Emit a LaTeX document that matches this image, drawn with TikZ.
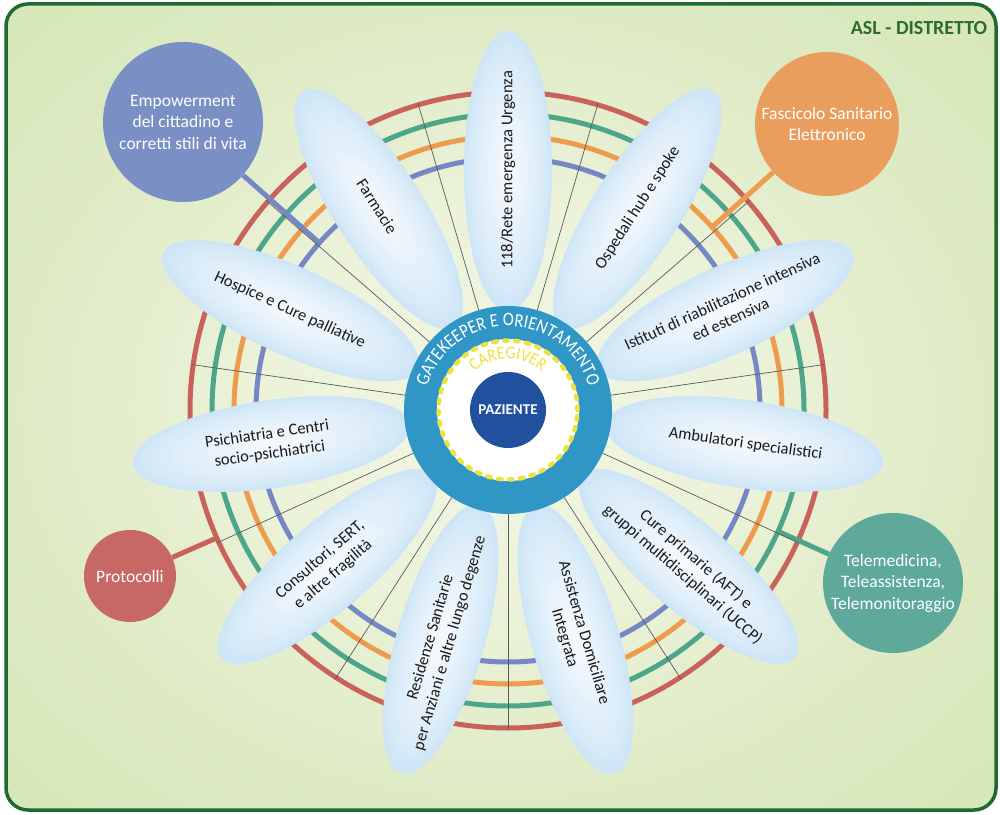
\documentclass[tikz,border=0pt]{standalone}
\usepackage{fontspec}
\setmainfont{Carlito}
\newfontfamily\gkfam[FakeStretch=0.88]{Carlito}
\usetikzlibrary{calc,decorations.text}
\definecolor{bgA}{HTML}{F2F6E3}
\definecolor{bgB}{HTML}{ECF3DA}
\definecolor{bgC}{HTML}{DDEAC3}
\definecolor{bgD}{HTML}{CDE2A9}
\definecolor{ringred}{HTML}{C8625B}
\definecolor{ringgreen}{HTML}{4DA68A}
\definecolor{ringorange}{HTML}{EE9B4E}
\definecolor{ringblue}{HTML}{7687C6}
\definecolor{empblue}{HTML}{7A8FC4}
\definecolor{fseorange}{HTML}{E99E5E}
\definecolor{teleteal}{HTML}{5EA999}
\definecolor{protred}{HTML}{C76864}
\definecolor{hubblue}{HTML}{2F96C5}
\definecolor{pazblue}{HTML}{21509F}
\definecolor{capyellow}{HTML}{EEE23C}
\definecolor{petalout}{HTML}{CDE5F6}
\definecolor{petalin}{HTML}{F4F9FD}
\definecolor{txtdark}{HTML}{1A1A1A}
\definecolor{framegreen}{HTML}{1F6A30}
\definecolor{titlegreen}{HTML}{2E6B30}
\definecolor{spokegray}{HTML}{5A5A5A}
\pgfdeclareradialshading{bgshade}{\pgfpoint{0bp}{0bp}}{color(0bp)=(bgA); color(12bp)=(bgB); color(25bp)=(bgC); color(50bp)=(bgD); color(75bp)=(bgD)}
\newcommand\gkfont{\gkfam\fontsize{19}{21}\selectfont\color{white}}
\newcommand\cgfont{\gkfam\fontsize{18}{20}\selectfont\color{capyellow}}
\tikzset{
  petaltext/.style={align=center, text=txtdark, font=\fontsize{16.5}{20}\selectfont, inner sep=0pt},
  outercirc/.style={circle, inner sep=0pt, text=white, align=center, font=\fontsize{17.5}{21.5}\selectfont},
  ringline/.style={line width=5},
  spokeline/.style={line width=0.7, draw=spokegray},
  linkline/.style={line width=5},
}
\begin{document}
\begin{tikzpicture}[x=1pt,y=1pt]
\useasboundingbox (0,0) rectangle (1000,814);
% frame
\shade[shading=bgshade, rounded corners=22] (6,4) rectangle (996,810);
\draw[framegreen, line width=3.5, rounded corners=22] (6,4) rectangle (996,810);
\node[font=\bfseries\fontsize{20}{22}\selectfont, text=titlegreen] (title) at (919,786) {ASL - DISTRETTO};
\coordinate (C) at (508,404);
% rings
\foreach \r/\c in {252/ringblue, 274/ringorange, 296/ringgreen, 318/ringred}
  \draw[ringline, \c] (C) circle (\r);
% outer circles
\node[outercirc, fill=empblue, minimum size=160] (emp) at (183,692) {Empowerment\\del cittadino e\\corretti stili di vita};
\node[outercirc, fill=fseorange, minimum size=144] (fse) at (827,690) {Fascicolo Sanitario\\Elettronico};
\node[outercirc, fill=teleteal, minimum size=140] (tele) at (893,231) {Telemedicina,\\Teleassistenza,\\Telemonitoraggio};
\node[outercirc, fill=protred, minimum size=92] (prot) at (130,238) {Protocolli};
\coordinate (lemp) at ($(C)!252pt!(emp)$);
\coordinate (lfse) at ($(C)!274pt!(fse)$);
\coordinate (ltele) at ($(C)!296pt!(tele)$);
\coordinate (lprot) at ($(C)!318pt!(prot)$);
\draw[linkline, ringblue] (lemp) -- (emp);
\draw[linkline, ringorange] (lfse) -- (fse);
\draw[linkline, ringgreen] (ltele) -- (tele);
\draw[linkline, ringred] (lprot) -- (prot);
% spokes
\foreach \k in {0,...,10}{
  \pgfmathsetmacro\ang{73.6364-\k*32.7273}
  \draw[spokeline] ($(C)+(\ang:104)$) -- ($(C)+(\ang:320)$);
}
% petals
\foreach \k in {0,...,10}{
  \pgfmathsetmacro\ang{90-\k*32.7273}
  \begin{scope}[shift={(C)}, rotate=\ang]
    \foreach \i in {0,...,20}{
      \pgfmathsetmacro\s{1-0.9*\i/20}
      \pgfmathtruncatemacro\pc{100*(\i/20)^0.75}
      \fill[petalin!\pc!petalout] (239,0) ellipse [x radius={140*\s}, y radius={44*\s}];
    }
  \end{scope}
}
% petal texts
\node[petaltext, rotate=90] (t0) at ($(C)+(90:240)$) {118/Rete emergenza Urgenza};
\node[petaltext, rotate=57.27] (t1) at ($(C)+(57.27:240)$) {Ospedali hub e spoke};
\node[petaltext, rotate=24.55] (t2) at ($(C)+(24.55:240)$) {Istituti di riabilitazione intensiva\\ed estensiva};
\node[petaltext, rotate=-8.18] (t3) at ($(C)+(-8.18:240)$) {Ambulatori specialistici};
\node[petaltext, rotate=-40.91] (t4) at ($(C)+(-40.91:240)$) {Cure primarie (AFT) e\\gruppi multidisciplinari (UCCP)};
\node[petaltext, rotate=-73.64] (t5) at ($(C)+(-73.64:235)$) {Assistenza Domiciliare\\Integrata};
\node[petaltext, rotate=73.64] (t6) at ($(C)+(-106.36:240)$) {Residenze Sanitarie\\per Anziani e altre lungo degenze};
\node[petaltext, rotate=40.91] (t7) at ($(C)+(-139.09:240)$) {Consultori, SERT,\\e altre fragilità};
\node[petaltext, rotate=8.18] (t8) at ($(C)+(-171.82:242)$) {Psichiatria e Centri\\socio-psichiatrici};
\node[petaltext, rotate=-24.55] (t9) at ($(C)+(155.45:240)$) {Hospice e Cure palliative};
\node[petaltext, rotate=-57.27] (t10) at ($(C)+(122.73:242)$) {Farmacie};
% hub
\fill[hubblue] (C) circle (104);
\fill[white] (C) circle (71);
\draw[capyellow, line width=4.5, line cap=round, dash pattern=on 3.5 off 7.45] (C) circle (69.5);
\node[circle, fill=pazblue, minimum size=76, inner sep=0pt, text=white, font=\bfseries\fontsize{15}{17}\selectfont] (paz) at (C) {PAZIENTE};
\path[decorate, decoration={text along path, text align=center, text={|\gkfont|GATEKEEPER E ORIENTAMENTO}}]
  ($(C)+(175:84)$) arc[start angle=175, end angle=5, radius=84];
\path[decorate, decoration={text along path, text align=center, text={|\cgfont|CAREGIVER}}]
  ($(C)+(160:51)$) arc[start angle=160, end angle=20, radius=51];
\end{tikzpicture}
\end{document}
